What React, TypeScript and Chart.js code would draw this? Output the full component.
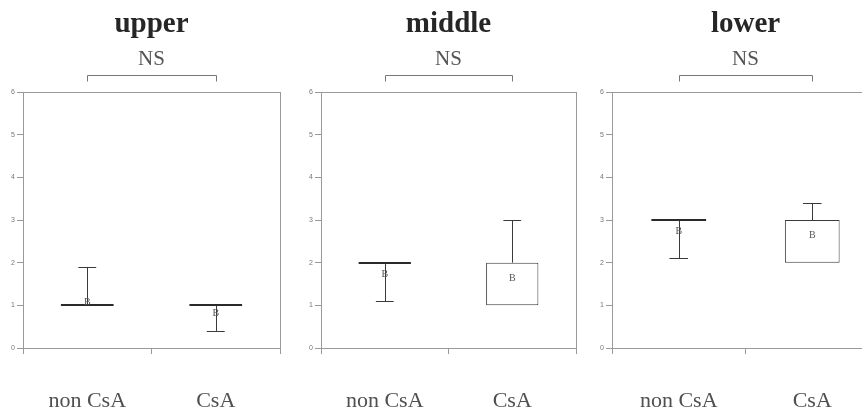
import React, { useEffect, useRef } from "react";
import { Chart, registerables } from "chart.js";

Chart.register(...registerables);

// ---- data ----
const categories = ["non CsA", "CsA"];
const panelTitles = ["upper", "middle", "lower"];
const significance = ["NS", "NS", "NS"];
const yMin = 0;
const yMax = 6;
const yStep = 1;

const upperBox: [number, number][] = [[1, 1], [1, 1]];
const upperWhisker = [1.9, 0.4];
const upperMean = [1.08, 0.8];

const middleBox: [number, number][] = [[2, 2], [1, 2]];
const middleWhisker = [1.1, 3.0];
const middleMean = [1.73, 1.64];

const lowerBox: [number, number][] = [[3, 3], [2, 3]];
const lowerWhisker = [2.1, 3.4];
const lowerMean = [2.74, 2.65];

const panelBoxes = [upperBox, middleBox, lowerBox];
const panelWhiskers = [upperWhisker, middleWhisker, lowerWhisker];
const panelMeans = [upperMean, middleMean, lowerMean];

// ---- layout (pixels) ----
const panelLefts = [0, 298, 589];
const panelWidths = [290, 288, 300];
const CANVAS_H = 416;
const SERIF = "'Liberation Serif', 'DejaVu Serif', serif";
const SANS = "'Liberation Sans', 'DejaVu Sans', sans-serif";

const extrasPlugin = {
  id: "boxExtras",
  afterDatasetsDraw(chart: any, _args: any, opts: any) {
    const { ctx, chartArea } = chart;
    const x = chart.scales.x;
    const y = chart.scales.y;
    const meta = chart.getDatasetMeta(0);
    const boxes: [number, number][] = opts.boxes;
    const whiskers: number[] = opts.whiskers;
    const means: number[] = opts.means;
    ctx.save();
    // frame
    ctx.strokeStyle = "#9a9a9a";
    ctx.lineWidth = 1;
    ctx.strokeRect(
      Math.round(chartArea.left) + 0.5,
      Math.round(chartArea.top) + 0.5,
      Math.round(chartArea.right - chartArea.left),
      Math.round(chartArea.bottom - chartArea.top)
    );
    boxes.forEach((box, i) => {
      const cx = x.getPixelForValue(i);
      const bw = meta.data[i] ? (meta.data[i] as any).width : 50;
      const w = whiskers[i];
      const from = w > box[1] ? box[1] : box[0];
      const yFrom = y.getPixelForValue(from);
      const yTo = y.getPixelForValue(w);
      const capHalf = bw * 0.17;
      ctx.strokeStyle = "#3a3a3a";
      ctx.lineWidth = 1;
      ctx.beginPath();
      ctx.moveTo(Math.round(cx) + 0.5, yFrom);
      ctx.lineTo(Math.round(cx) + 0.5, yTo);
      ctx.moveTo(cx - capHalf, Math.round(yTo) + 0.5);
      ctx.lineTo(cx + capHalf, Math.round(yTo) + 0.5);
      ctx.stroke();
      if (box[0] === box[1]) {
        const yy = y.getPixelForValue(box[0]);
        ctx.lineWidth = 2;
        ctx.strokeStyle = "#2a2a2a";
        ctx.beginPath();
        ctx.moveTo(cx - bw / 2, Math.round(yy));
        ctx.lineTo(cx + bw / 2, Math.round(yy));
        ctx.stroke();
      }
      // mean marker "B"
      ctx.fillStyle = "#555";
      ctx.font = `10px ${SERIF}`;
      ctx.textAlign = "center";
      ctx.textBaseline = "middle";
      ctx.fillText("B", cx, y.getPixelForValue(means[i]));
    });
    // significance bracket
    const x0 = x.getPixelForValue(0);
    const x1 = x.getPixelForValue(1);
    const by = Math.round(chartArea.top - 17) + 0.5;
    ctx.strokeStyle = "#777";
    ctx.lineWidth = 1;
    ctx.beginPath();
    ctx.moveTo(Math.round(x0) + 0.5, by + 6);
    ctx.lineTo(Math.round(x0) + 0.5, by);
    ctx.lineTo(Math.round(x1) + 0.5, by);
    ctx.lineTo(Math.round(x1) + 0.5, by + 6);
    ctx.stroke();
    ctx.restore();
  },
};

function Panel({ idx }: { idx: number }) {
  const ref = useRef<HTMLCanvasElement | null>(null);
  useEffect(() => {
    if (!ref.current) return;
    const chart = new Chart(ref.current, {
      type: "bar",
      data: {
        labels: categories,
        datasets: [
          {
            data: panelBoxes[idx] as any,
            backgroundColor: "#ffffff",
            borderColor: "#3a3a3a",
            borderWidth: 1,
            borderSkipped: false,
            barPercentage: 0.41,
            categoryPercentage: 1,
          },
        ],
      },
      options: {
        responsive: false,
        animation: false,
        devicePixelRatio: 1,
        layout: { padding: { left: 0, right: 10, top: 0, bottom: 0 } },
        plugins: {
          legend: { display: false },
          tooltip: { enabled: false },
          title: {
            display: true,
            text: panelTitles[idx],
            fullSize: false,
            color: "#262626",
            font: { family: SERIF, size: 29, weight: "bold", lineHeight: 1.2 },
            padding: { top: 7, bottom: 1 },
          },
          subtitle: {
            display: true,
            text: significance[idx],
            fullSize: false,
            color: "#555",
            font: { family: SERIF, size: 21, weight: "normal", lineHeight: 1.2 },
            padding: { top: 4, bottom: 20 },
          },
          boxExtras: {
            boxes: panelBoxes[idx],
            whiskers: panelWhiskers[idx],
            means: panelMeans[idx],
          },
        } as any,
        scales: {
          x: {
            offset: true,
            afterFit: (s: any) => {
              s.height = 68;
            },
            grid: {
              display: true,
              offset: true,
              drawOnChartArea: false,
              tickLength: 6,
              color: "#999",
            },
            border: { display: true, color: "#888" },
            ticks: {
              color: "#505050",
              padding: 34,
              font: { family: SERIF, size: 22 },
              maxRotation: 0,
            },
          },
          y: {
            min: yMin,
            max: yMax,
            afterFit: (s: any) => {
              s.width = 23;
            },
            grid: {
              display: true,
              drawOnChartArea: false,
              tickLength: 6,
              color: "#999",
            },
            border: { display: true, color: "#888" },
            ticks: {
              stepSize: yStep,
              color: "#777",
              padding: 2,
              font: { family: SANS, size: 7 },
            },
          },
        },
      },
      plugins: [extrasPlugin as any],
    });
    return () => chart.destroy();
  }, [idx]);
  return (
    <div
      style={{
        position: "absolute",
        left: panelLefts[idx],
        top: 0,
        width: panelWidths[idx],
        height: CANVAS_H,
      }}
    >
      <canvas ref={ref} width={panelWidths[idx]} height={CANVAS_H} />
    </div>
  );
}

export default function App() {
  return (
    <div
      style={{
        position: "absolute",
        left: 0,
        top: 0,
        width: 862,
        height: 416,
        overflow: "hidden",
        background: "#fff",
      }}
    >
      {panelTitles.map((_, i) => (
        <Panel key={i} idx={i} />
      ))}
    </div>
  );
}
